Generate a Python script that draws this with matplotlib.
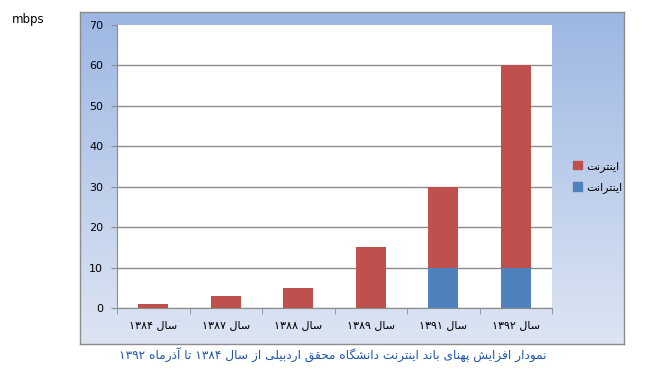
import numpy as np
import matplotlib.pyplot as plt
from matplotlib.patches import Patch

plt.rcParams['font.family'] = ['DejaVu Sans']

# داده‌ها
years = ['۱۳۸۴', '۱۳۸۷', '۱۳۸۸', '۱۳۸۹', '۱۳۹۱', '۱۳۹۲']
intranet = [0, 0, 0, 0, 10, 10]
internet = [1, 3, 5, 15, 20, 50]
y_ticks = [0, 10, 20, 30, 40, 50, 60, 70]
label_internet = 'اینترنت'
label_intranet = 'اینترانت'
caption = 'نمودار افزایش پهنای باند اینترنت دانشگاه محقق اردبیلی از سال ۱۳۸۴ تا آذرماه ۱۳۹۲'

# شکل‌دهی ساده حروف فارسی (matplotlib خودش حروف را به هم نمی‌چسباند)
FORMS = {
    'ا': (0xFE8D, 0xFE8E), 'آ': (0xFE81, 0xFE82), 'د': (0xFEA9, 0xFEAA),
    'ذ': (0xFEAB, 0xFEAC), 'ر': (0xFEAD, 0xFEAE), 'ز': (0xFEAF, 0xFEB0),
    'و': (0xFEED, 0xFEEE),
    'ب': (0xFE8F, 0xFE90, 0xFE91, 0xFE92), 'پ': (0xFB56, 0xFB57, 0xFB58, 0xFB59),
    'ت': (0xFE95, 0xFE96, 0xFE97, 0xFE98), 'ح': (0xFEA1, 0xFEA2, 0xFEA3, 0xFEA4),
    'س': (0xFEB1, 0xFEB2, 0xFEB3, 0xFEB4), 'ش': (0xFEB5, 0xFEB6, 0xFEB7, 0xFEB8),
    'ف': (0xFED1, 0xFED2, 0xFED3, 0xFED4), 'ق': (0xFED5, 0xFED6, 0xFED7, 0xFED8),
    'ک': (0xFB8E, 0xFB8F, 0xFB90, 0xFB91), 'گ': (0xFB92, 0xFB93, 0xFB94, 0xFB95),
    'ل': (0xFEDD, 0xFEDE, 0xFEDF, 0xFEE0), 'م': (0xFEE1, 0xFEE2, 0xFEE3, 0xFEE4),
    'ن': (0xFEE5, 0xFEE6, 0xFEE7, 0xFEE8), 'ه': (0xFEE9, 0xFEEA, 0xFEEB, 0xFEEC),
    'ی': (0xFBFC, 0xFBFD, 0xFBFE, 0xFBFF),
}


def fa(text):
    out = []
    for i, ch in enumerate(text):
        if ch not in FORMS:
            out.append(ch)
            continue
        prev = text[i - 1] if i > 0 else ''
        nxt = text[i + 1] if i + 1 < len(text) else ''
        jp = prev in FORMS and len(FORMS[prev]) == 4
        jn = len(FORMS[ch]) == 4 and nxt in FORMS
        f = FORMS[ch]
        if jp and jn:
            out.append(chr(f[3]))
        elif jp:
            out.append(chr(f[1]))
        elif jn:
            out.append(chr(f[2]))
        else:
            out.append(chr(f[0]))
    s = ''.join(out)[::-1]
    # اعداد چپ به راست می‌مانند
    res, run = '', ''
    for ch in s:
        if ch.isdigit():
            run += ch
        else:
            res += run[::-1] + ch
            run = ''
    return res + run[::-1]


fig = plt.figure(figsize=(6.5, 3.7), dpi=100)
fig.patch.set_facecolor('white')

# پس‌زمینه گرادیانی
bg = fig.add_axes([80 / 650, 1 - 344 / 370, 544 / 650, 332 / 370])
grad = np.linspace(0, 1, 256).reshape(-1, 1)
top = np.array([157, 183, 227]) / 255
bot = np.array([221, 229, 243]) / 255
img = top + (bot - top) * grad[:, :, None]
bg.imshow(img, aspect='auto', extent=[0, 1, 0, 1])
bg.set_xticks([])
bg.set_yticks([])
for s in bg.spines.values():
    s.set_color('#8c8c8c')
    s.set_linewidth(1.0)

ax = fig.add_axes([117 / 650, 1 - 308 / 370, 435 / 650, 283 / 370])
ax.set_facecolor('white')
x = np.arange(len(years))
ax.bar(x, intranet, width=0.41, color='#4F81BD', zorder=3)
ax.bar(x, internet, bottom=intranet, width=0.41, color='#C0504D', zorder=3)

ax.set_xlim(-0.5, len(years) - 0.5)
ax.set_ylim(0, 70)
ax.set_yticks(y_ticks)
ax.set_yticklabels([str(v) for v in y_ticks], fontsize=8)
ax.yaxis.grid(True, color='#8c8c8c', linewidth=1.0, zorder=0)
ax.yaxis.get_gridlines()[-1].set_visible(False)
ax.tick_params(axis='y', length=4, color='#8c8c8c', pad=6)

ax.set_xticks(x)
ax.set_xticklabels([fa('سال ' + y) for y in years], fontsize=8)
ax.set_xticks(np.arange(len(years) + 1) - 0.5, minor=True)
ax.tick_params(axis='x', which='major', length=0, pad=9)
ax.tick_params(axis='x', which='minor', length=4, color='#8c8c8c')

for side in ['top', 'right']:
    ax.spines[side].set_visible(False)
for side in ['left', 'bottom']:
    ax.spines[side].set_color('#8c8c8c')

handles = [Patch(color='#C0504D', label=fa(label_internet)),
           Patch(color='#4F81BD', label=fa(label_intranet))]
fig.legend(handles=handles, loc='center left', bbox_to_anchor=(563 / 650, 1 - 177 / 370),
           frameon=False, fontsize=8, handlelength=0.8, handleheight=0.8,
           handletextpad=0.4, labelspacing=0.9)

fig.text(12 / 650, 1 - 20 / 370, 'mbps', fontsize=8.5, va='center', ha='left')
fig.text(333 / 650, 1 - 355 / 370, fa(caption), fontsize=8.7, color='#1F55A8',
         va='center', ha='center')

fig.savefig('out.png', dpi=100)
